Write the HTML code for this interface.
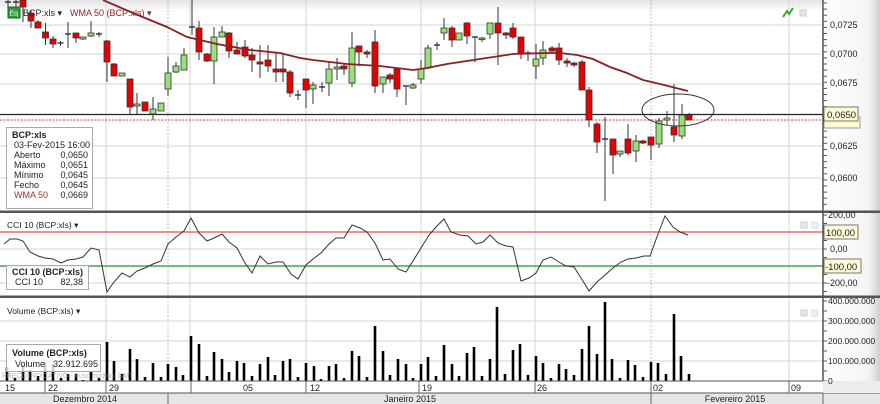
<!DOCTYPE html>
<html><head><meta charset="utf-8">
<style>
html,body{margin:0;padding:0;background:#fff;}
svg{display:block;font-family:"Liberation Sans",sans-serif;}
</style></head>
<body>
<svg id="s" width="880" height="404" viewBox="0 0 880 404" xmlns="http://www.w3.org/2000/svg">
<defs>
<linearGradient id="tg" x1="0" y1="0" x2="0" y2="1"><stop offset="0" stop-color="#e4e4e4"/><stop offset="1" stop-color="#fff"/></linearGradient>
<linearGradient id="ag" x1="0" y1="0" x2="1" y2="0"><stop offset="0" stop-color="#fff"/><stop offset="0.8" stop-color="#f4f4f4"/><stop offset="1" stop-color="#cfcfcf"/></linearGradient>
</defs>
<rect width="880" height="404" fill="#fff"/>
<rect x="0" y="0" width="823" height="12" fill="url(#tg)"/>
<rect x="823" y="0" width="57" height="381" fill="url(#ag)"/>
<g id="grid" stroke="#dcdcdc" stroke-width="1.2"></g>
<g id="plot"></g>
<g id="txt" font-size="9" fill="#222"></g>
</svg>
<script>
const NS="http://www.w3.org/2000/svg";
function el(p,t,a,txt){const e=document.createElementNS(NS,t);for(const k in a)e.setAttribute(k,a[k]);if(txt!==undefined)e.textContent=txt;document.getElementById(p).appendChild(e);return e;}
// grid
[25,54,84,146,178].forEach(y=>el('grid','line',{x1:0,x2:823,y1:y,y2:y}));
[232,249,266,283].forEach(y=>el('grid','line',{x1:0,x2:823,y1:y,y2:y}));
[321,341,361].forEach(y=>el('grid','line',{x1:0,x2:823,y1:y,y2:y}));
[106,190,306,421,535,789].forEach(x=>el('grid','line',{x1:x,x2:x,y1:0,y2:381}));
[168,651].forEach(x=>el('grid','line',{x1:x,x2:x,y1:0,y2:381,'stroke-dasharray':'1.5,2',stroke:'#bbb'}));
// panel dividers
el('plot','rect',{x:0,y:210.5,width:880,height:2.5,fill:'#555'});
el('plot','rect',{x:0,y:295.5,width:880,height:2.5,fill:'#555'});
// price lines
el('plot','line',{x1:0,x2:823,y1:114.5,y2:114.5,stroke:'#222','stroke-width':1.2});
el('plot','line',{x1:0,x2:823,y1:120,y2:120,stroke:'#e33','stroke-width':1,'stroke-dasharray':'2,1.5'});
// candles [x,wt,wb,bt,bb,c]
const C=[[8,0,10,2,2,'d'],[16,0,12,2,2,'d'],[23,0,22,0,7,'r'],[31,10,28,13,21,'r'],[38,20,28,22,28,'r'],[45.5,23,45,32,38,'r'],[53,36,48,39,44,'r'],[60.5,41,46,43,43,'d'],[68,22,48,34,34,'d'],[76,33,43,33,38,'r'],[83,37,40,37,39,'g'],[91,21,37,33,36,'g'],[99,32,37,34,34,'d'],
[107,40,82,41,62,'r'],[114,63,76,64,76,'r'],[122,73,76,73,76,'g'],[130,79,114,79,107,'r'],[137,93,114,104,106,'g'],[145,102,111,102,111,'r'],[153,97,120,109,114,'g'],[161,103,111,103,111,'g'],[168,57,96,73,89,'g'],[176,62,73,66,72,'g'],[184,48,70,55,70,'g'],[192,0,35,27,27,'d'],[199,21,60,28,52,'r'],[207,53,62,54,61,'r'],[214,27,84,37,61,'g'],[222,26,37,32,37,'g'],[229,32,58,33,51,'r'],[237,42,54,50,54,'r'],[245,40,58,47,56,'r'],[252,48,72,55,60,'r'],[260,45,78,62,64,'r'],[268,45,72,60,66,'r'],[276,53,82,69,72,'r'],
[283,53,82,69,72,'r'],[290,70,97,72,93,'r'],[298,90,100,95,95,'d'],[306,79,108,79,90,'r'],[313,82,104,85,89,'g'],[322,82,92,87,87,'d'],[329,62,96,69,83,'g'],[337,58,80,67,69,'g'],[344,64,75,66,69,'r'],[352,32,87,48,83,'g'],[359,46,66,46,52,'r'],[367,50,58,52,54,'r'],[375,30,93,42,86,'r'],[383,77,93,77,84,'g'],[390,73,83,75,79,'r'],[397,69,97,69,89,'r'],[406,86,105,86,86,'d'],[413,83,89,85,88,'g'],[421,60,84,69,79,'g'],[428,45,69,48,68,'g'],[437,42,50,45,45,'d'],[444,18,40,28,33,'g'],[452,26,47,28,40,'r'],[459,33,40,33,40,'g'],[467,22,44,23,36,'r'],[475,37,62,37,37,'d'],[482,37,42,38,39,'g'],[490,23,39,23,34,'g'],[498,7,65,23,33,'r'],[506,32,39,33,35,'r'],[513,23,39,28,37,'r'],[521,37,59,37,54,'r'],[528,51,61,53,53,'d'],[536,44,79,59,66,'g'],[543,41,65,50,58,'g'],[552,46,53,48,51,'r'],[559,43,65,48,60,'r'],
[567,58,67,61,63,'r'],[574,62,67,63,65,'r'],[582,60,90,62,90,'r'],[589,87,127,90,120,'r'],[597,122,153,124,142,'r'],[605,117,201,139,139,'d'],[613,139,174,139,155,'r'],[620,151,157,151,154,'g'],[628,124,155,139,153,'r'],[636,135,162,141,151,'g'],[643,140,144,141,143,'r'],[651,137,160,137,145,'r'],[659,118,148,121,144,'g'],[667,111,125,118,120,'g'],[674,84,142,127,135,'r'],[682,104,139,115,136,'g'],[689,113,120,115,120,'r']];
C.forEach(c=>{const[x,wt,wb,bt,bb,k]=c;
el('plot','line',{x1:x,x2:x,y1:wt,y2:wb,stroke:'#333','stroke-width':1});
if(k==='d'){el('plot','line',{x1:x-3,x2:x+3,y1:bt,y2:bt,stroke:'#222','stroke-width':1.3});}
else el('plot','rect',{x:x-3,y:bt,width:6,height:Math.max(bb-bt,1.5),fill:k==='r'?'#e80000':'#98e078',stroke:'#333','stroke-width':0.8});
});
// WMA
el('plot','polyline',{points:'103,0 133,13 167,27 187,37 217,44 250,50 280,53 300,58 313,60 347,64 380,66 413,70 427,68 447,64 480,59 513,54 547,53 560,53 577,55 593,59 610,67 627,73 643,80 660,84 688,91',fill:'none',stroke:'#8b2020','stroke-width':1.8});
el('plot','ellipse',{cx:678,cy:110,rx:36,ry:16,fill:'none',stroke:'#333','stroke-width':1});
// CCI
el('plot','line',{x1:0,x2:823,y1:232,y2:232,stroke:'#f05050','stroke-width':1.2});
el('plot','line',{x1:0,x2:823,y1:266,y2:266,stroke:'#2a9a2a','stroke-width':1.2});
el('plot','polyline',{points:'4,244 10,239 17,239 23,241 30,252 38,256 45,258 53,259 61,263 68,260 76,259 83,257 91,248 99,250 107,292 114,282 122,273 130,277 137,271 145,268 153,264 161,261 168,244 176,237 184,231 191,218 199,233 207,241 214,238 222,234 229,242 237,248 245,263 252,273 260,256 268,264 276,262 283,262 291,274 298,279 306,265 313,259 321,253 329,244 336,238 344,238 352,225 360,228 367,232 375,243 383,260 390,259 398,269 406,272 413,261 421,248 429,235 436,227 444,219 451,232 460,235 468,236 476,244 483,242 490,235 498,243 506,246 513,247 521,281 529,278 536,273 543,260 551,257 559,262 566,266 574,267 583,281 589,291 597,282 605,275 613,268 621,262 628,259 636,258 644,256 650,256 658,234 665,216 673,227 680,232 688,235',fill:'none',stroke:'#333','stroke-width':1});
// Volume
const V=[[7,367],[15,378],[23,365],[30,370],[38,376],[45,362],[53,364],[61,378],[68,374],[76,374],[83,380],[91,372],[99,378],[107,342],[114,361],[122,374],[130,349],[137,359],[145,377],[153,363],[161,377],[168,364],[176,367],[183,375],[191,336],[199,344],[207,376],[214,352],[222,359],[229,372],[237,361],[244,363],[252,376],[260,364],[268,357],[275,375],[283,361],[290,359],[298,377],[306,363],[314,366],[321,379],[329,366],[336,364],[344,378],[352,351],[359,356],[367,377],[375,326],[383,351],[390,375],[398,359],[406,364],[413,378],[421,364],[428,357],[436,376],[444,345],[452,364],[459,376],[467,353],[474,347],[482,376],[490,359],[497,307],[505,374],[513,350],[520,344],[528,375],[536,356],[543,363],[551,378],[559,364],[566,369],[574,375],[582,349],[589,326],[597,354],[605,302],[612,359],[620,378],[628,360],[635,365],[643,377],[651,362],[658,363],[666,374],[674,314],[681,356],[689,374]];
V.forEach(v=>el('plot','rect',{x:v[0]-1.3,y:v[1],width:2.6,height:381-v[1],fill:'#000'}));
// axis line + ticks
el('plot','line',{x1:823,x2:823,y1:0,y2:381,stroke:'#555','stroke-width':1.5});
for(let y=3;y<210;y+=6.1)el('plot','line',{x1:823,x2:827,y1:y,y2:y,stroke:'#555'});
for(let y=215;y<295;y+=8.5)el('plot','line',{x1:823,x2:827,y1:y,y2:y,stroke:'#555'});
for(let y=301;y<=381;y+=10)el('plot','line',{x1:823,x2:827,y1:y,y2:y,stroke:'#555'});
// bottom axis
el('plot','rect',{x:0,y:381,width:823,height:12,fill:'#fff'});
el('plot','line',{x1:0,x2:823,y1:381,y2:381,stroke:'#555'});
el('plot','rect',{x:0,y:393,width:880,height:11,fill:'#e6e6e6'});
el('plot','line',{x1:0,x2:880,y1:393,y2:393,stroke:'#555'});
el('plot','rect',{x:823,y:381,width:57,height:12,fill:'#ececec'});
[45,106,191,306,419,535,651,789].forEach(x=>el('plot','line',{x1:x,x2:x,y1:381,y2:393,stroke:'#666'}));
[168,651,823].forEach(x=>el('plot','line',{x1:x,x2:x,y1:393,y2:404,stroke:'#666'}));
const T=(x,y,s,o)=>{const a=Object.assign({x:x,y:y},o||{});return el('txt','text',a,s);};
[['15',5],['22',48],['29',109],['05',243],['12',310],['19',422],['26',537],['02',653],['09',791]].forEach(d=>T(d[1],391,d[0],{'font-size':9}));
T(85,402,'Dezembro 2014',{'text-anchor':'middle'});T(410,402,'Janeiro 2015',{'text-anchor':'middle'});T(735,402,'Fevereiro 2015',{'text-anchor':'middle'});
// price labels
[['0,0725',28],['0,0700',57],['0,0675',86],['0,0625',149],['0,0600',181]].forEach(l=>T(830,l[1],l[0]));
el('plot','rect',{x:824,y:117,width:36,height:11,fill:'#fffbd8',stroke:'#777','stroke-width':0.7});
el('plot','rect',{x:824,y:107,width:34,height:14,fill:'#fffbd8',stroke:'#555','stroke-width':0.8});
T(827,118,'0,0650',{'font-size':9.5});
// cci labels
T(828,218,'200,00');T(830,252,'0,00');T(827,286,'-200,00');
el('plot','rect',{x:824,y:225,width:34,height:14,fill:'#fffbd8',stroke:'#555','stroke-width':0.8});T(826,236,'100,00',{'font-size':9.5});
el('plot','rect',{x:824,y:259,width:37,height:14,fill:'#fffbd8',stroke:'#555','stroke-width':0.8});T(825,270,'-100,00',{'font-size':9.5});
// volume labels
[['400.000.000',304],['300.000.000',324],['200.000.000',344],['100.000.000',364],['0',384]].forEach(l=>T(828,l[1],l[0],{'font-size':8.5}));
// top legend
el('plot','rect',{x:8,y:7,width:12,height:11,fill:'#2a9a3a',stroke:'#176622'});
T(9.5,15.5,'Eq',{'font-size':7,fill:'#fff'});
T(23,16,'BCP:xls ▾',{'font-size':9});T(70,16,'WMA 50 (BCP:xls) ▾',{'font-size':9,fill:'#8b2020'});
el('plot','polyline',{points:'783,17 787,11 789,14 793,8',fill:'none',stroke:'#3a3','stroke-width':2});
el('plot','rect',{x:800,y:10,width:6,height:6,fill:'#e6e6e6',stroke:'#ccc'});
el('plot','rect',{x:801,y:222,width:6,height:6,fill:'#e6e6e6',stroke:'#ccc'});el('plot','rect',{x:812,y:222,width:6,height:6,fill:'#f0f0f0',stroke:'#ddd'});
el('plot','rect',{x:801,y:310,width:6,height:6,fill:'#e6e6e6',stroke:'#ccc'});el('plot','rect',{x:812,y:310,width:6,height:6,fill:'#f0f0f0',stroke:'#ddd'});
// info box
el('plot','rect',{x:6.5,y:127.5,width:86,height:81,fill:'rgba(255,255,255,0.85)',stroke:'#aaa'});
T(12,138,'BCP:xls',{'font-weight':'bold'});T(14,148,'03-Fev-2015 16:00');
[['Aberto','0,0650',158],['Máximo','0,0651',168],['Mínimo','0,0645',178],['Fecho','0,0645',188]].forEach(r=>{T(14,r[2],r[0]);T(88,r[2],r[1],{'text-anchor':'end'});});
T(14,198,'WMA 50',{fill:'#a03030'});T(88,198,'0,0669',{'text-anchor':'end'});
// CCI legend
T(7,228,'CCI 10 (BCP:xls) ▾',{'font-size':8.5});
el('plot','rect',{x:6.5,y:265.5,width:82,height:24,fill:'rgba(255,255,255,0.85)',stroke:'#aaa'});
T(12,275,'CCI 10 (BCP:xls)',{'font-weight':'bold'});T(15,285,'CCI 10');T(83,285,'82,38',{'text-anchor':'end'});
// Volume legend
T(7,314,'Volume (BCP:xls) ▾',{'font-size':8.5});
el('plot','rect',{x:6.5,y:344.5,width:94,height:27,fill:'rgba(255,255,255,0.8)',stroke:'#aaa'});
T(12,356,'Volume (BCP:xls)',{'font-weight':'bold'});T(15,367,'Volume');T(98,367,'32.912.695',{'text-anchor':'end'});
T(2,378,'PREÇO INDICATIVO - Fuso horário: GMT',{'font-size':7,fill:'#999','opacity':0.7});
</script>
</body></html>
